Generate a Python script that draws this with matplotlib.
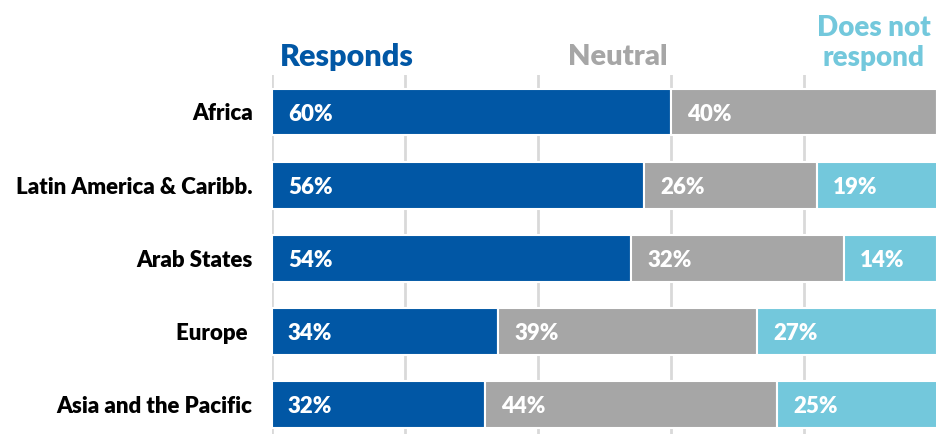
import numpy as np
import matplotlib.pyplot as plt

# data
regions = ["Africa", "Latin America & Caribb.", "Arab States", "Europe ", "Asia and the Pacific"]
responds = [60, 56, 54, 34, 32]
neutral = [40, 26, 32, 39, 44]
no_resp = [0, 19, 14, 27, 25]

c_blue = "#0157a5"
c_gray = "#a6a6a6"
c_light = "#73c8dc"

plt.rcParams['font.family'] = ['Lato', 'DejaVu Sans']

fig = plt.figure(figsize=(9.37, 4.34), dpi=100)
ax = fig.add_axes([272 / 937, 0, 665 / 937, (434 - 75) / 434])

vals = np.array([responds, neutral, no_resp], dtype=float)
y = np.arange(len(regions))

for g in range(0, 101, 20):
    ax.axvline(g, color="#d9d9d9", lw=2, zorder=0)

# the last segment simply runs off the 100% edge
left = np.zeros(len(regions))
for k, col in enumerate([c_blue, c_gray, c_light]):
    ax.barh(y, vals[k], left=left, height=0.64, color=col,
            edgecolor="white", linewidth=1.5, zorder=2)
    for i in range(len(regions)):
        if vals[k, i] > 0:
            ax.text(left[i] + 2.4, y[i] + 0.03, f"{int(vals[k, i])}%", color="white",
                    fontsize=16, fontweight="heavy", va="center", ha="left", zorder=3)
    left += vals[k]

ax.set_xlim(0, 100)
ax.set_ylim(4.404, -0.506)
ax.set_yticks(y)
ax.set_yticklabels(regions, fontsize=16, fontweight="heavy")
ax.tick_params(axis="y", length=0, pad=14)
ax.set_xticks([])
for s in ax.spines.values():
    s.set_visible(False)

# column headers
fig.text(280 / 937, 1 - 57 / 434, "Responds", color=c_blue, fontsize=22,
         fontweight="heavy", ha="left", va="center")
fig.text(667 / 937, 1 - 57 / 434, "Neutral", color=c_gray, fontsize=21,
         fontweight="heavy", ha="right", va="center")
fig.text(874 / 937, 1 - 43 / 434, "Does not\nrespond", color=c_light, fontsize=20,
         fontweight="heavy", ha="center", va="center", linespacing=1.15)

fig.savefig("out.png", dpi=100)
